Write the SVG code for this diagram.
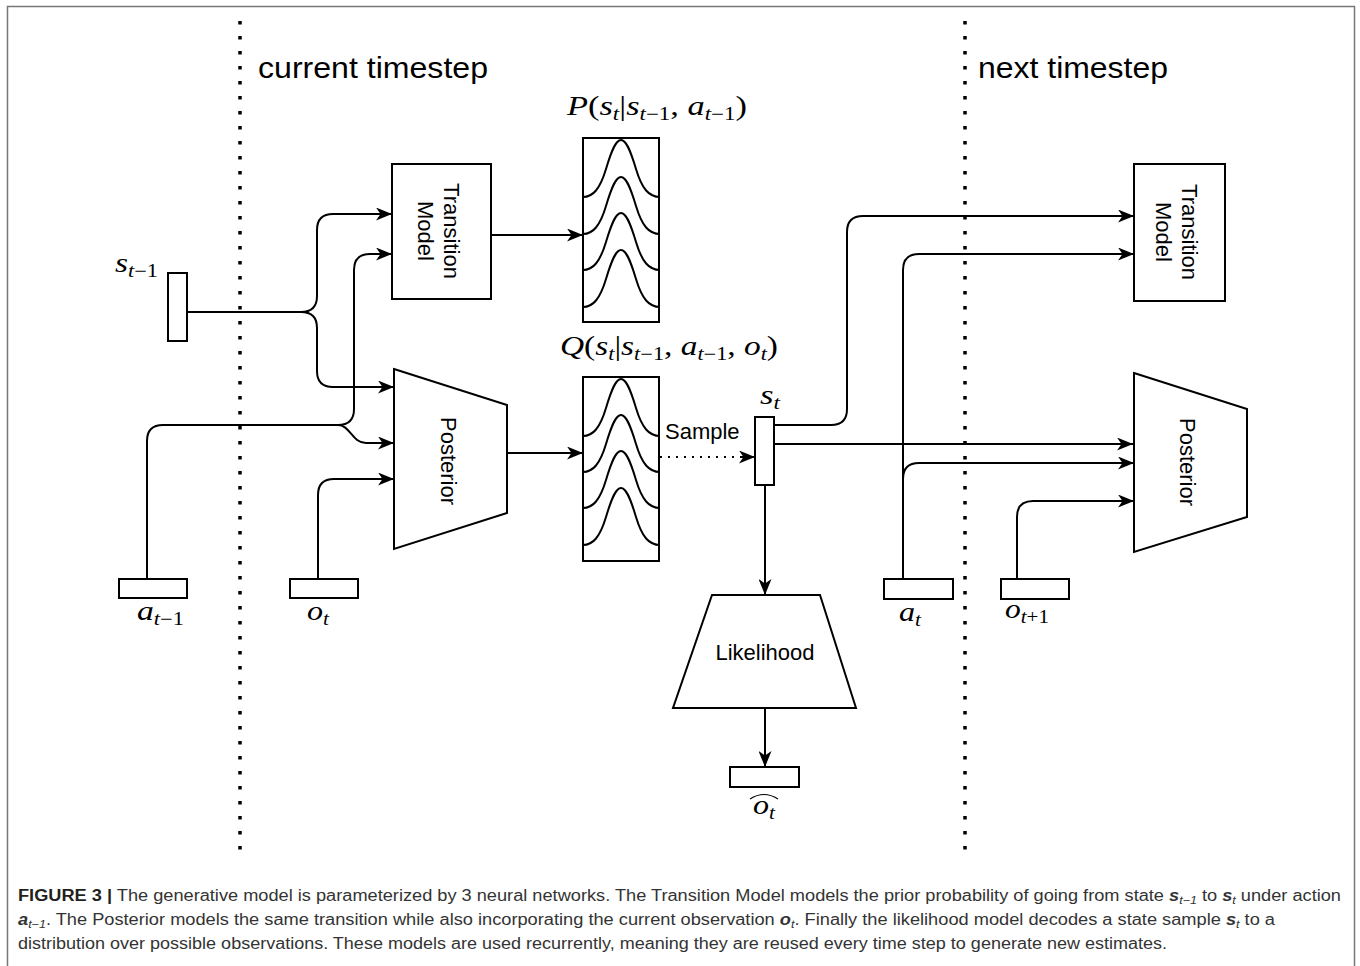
<svg xmlns="http://www.w3.org/2000/svg" width="1360" height="966" viewBox="0 0 1360 966">
<style>
.ln{fill:none;stroke:#000;stroke-width:2}
.arr{marker-end:url(#ah)}
.box{fill:#fff;stroke:#000;stroke-width:2}
.tl{fill:none;stroke:#000;stroke-width:3.5;stroke-dasharray:3.5 11.5}
.big{font-family:"Liberation Sans",Arial,sans-serif;font-size:30px;fill:#000}
.lab{font-family:"Liberation Sans",Arial,sans-serif;font-size:22px;fill:#000}
.m{font-family:"Liberation Serif","Times New Roman",serif;font-size:27px;fill:#000}
.i{font-style:italic}
.sub{font-size:18px}
.cap{font-family:"Liberation Sans",Arial,sans-serif;font-size:16px;fill:#333}
.cb{font-weight:bold;fill:#231f20}
.cv{font-weight:bold;font-style:italic}
.cs{font-size:11px;font-style:italic}
.g{fill:none;stroke:#000;stroke-width:2}
</style>
<defs>
<marker id="ah" markerUnits="userSpaceOnUse" markerWidth="17" markerHeight="13" refX="16" refY="6.5" orient="auto">
<path d="M0,0 L16,6.5 L0,13 L4.5,6.5 Z" fill="#000"/>
</marker>
<path id="gauss" d="M0,0 C10,0 17,-8 23,-28 C29,-48 33,-57 38,-57 C43,-57 47,-48 53,-28 C59,-8 66,0 77,0"/>
</defs>
<rect width="1360" height="966" fill="#fff"/>
<rect x="7.5" y="6.5" width="1347" height="1000" fill="none" stroke="#777" stroke-width="1.5"/>

<g id="timesteps">
<line class="tl" x1="240" y1="21" x2="240" y2="850"/>
<line class="tl" x1="965" y1="21" x2="965" y2="850"/>
<text class="big" x="258" y="78" textLength="230" lengthAdjust="spacingAndGlyphs">current timestep</text>
<text class="big" x="978" y="78" textLength="190" lengthAdjust="spacingAndGlyphs">next timestep</text>
</g>

<g id="connectors">
<path class="ln" d="M187,312 H301" stroke-width="3"/>
<path class="ln arr" d="M187,312 H301 Q317,312 317,296 V230 Q317,214 333,214 H392"/>
<path class="ln arr" d="M187,312 H301 Q317,312 317,328 V371 Q317,387 333,387 H394"/>
<path class="ln arr" d="M147,579 V441 Q147,425 163,425 H338 Q354,425 354,409 V270 Q354,254 370,254 H392"/>
<path class="ln arr" d="M338,425 C350,425 352,443 366,443 H394"/>
<path class="ln arr" d="M318,579 V495 Q318,479 334,479 H394"/>
<path class="ln arr" d="M491,235 H583"/>
<path class="ln arr" d="M507,453 H583"/>
<path class="ln" d="M660,457 H740" stroke-dasharray="2 6"/>
<path class="ln arr" d="M740,457 H755" stroke="none"/>
<path class="ln arr" d="M774,425 H831 Q847,425 847,409 V232 Q847,216 863,216 H1134"/>
<path class="ln arr" d="M774,444 H1133"/>
<path class="ln arr" d="M903,579 V270 Q903,254 919,254 H1134"/>
<path class="ln arr" d="M903,479 Q903,463 919,463 H1134"/>
<path class="ln arr" d="M1017,579 V517 Q1017,501 1033,501 H1134"/>
<path class="ln arr" d="M765,485 V595"/>
<path class="ln arr" d="M765,708 V767"/>
</g>

<g id="s_prev">
<rect class="box" x="168" y="273" width="19" height="68"/>
<text class="m" x="115" y="272" textLength="43" lengthAdjust="spacingAndGlyphs"><tspan class="i">s</tspan><tspan class="sub" dy="5"><tspan class="i">t</tspan>−1</tspan></text>
</g>

<g id="a_prev">
<rect class="box" x="119" y="579" width="68" height="19"/>
<text class="m" x="137" y="620" textLength="47" lengthAdjust="spacingAndGlyphs"><tspan class="i">a</tspan><tspan class="sub" dy="5"><tspan class="i">t</tspan>−1</tspan></text>
</g>

<g id="o_t">
<rect class="box" x="290" y="579" width="68" height="19"/>
<text class="m" x="307" y="620" textLength="22" lengthAdjust="spacingAndGlyphs"><tspan class="i">o</tspan><tspan class="sub i" dy="5">t</tspan></text>
</g>

<g id="transition_left">
<rect class="box" x="392" y="164" width="99" height="135"/>
<g transform="translate(441.5,231) rotate(90)">
<text class="lab" x="0" y="-2" text-anchor="middle">Transition</text>
<text class="lab" x="0" y="24" text-anchor="middle">Model</text>
</g>
</g>

<g id="posterior_left">
<path class="box" d="M394,369 L507,405 L507,513 L394,549 Z"/>
<text class="lab" transform="translate(450,461) rotate(90)" x="0" y="9" text-anchor="middle">Posterior</text>
</g>

<g id="prior_dist">
<text class="m" x="567" y="115" textLength="180" lengthAdjust="spacingAndGlyphs"><tspan class="i">P</tspan>(<tspan class="i">s</tspan><tspan class="sub i" dy="5">t</tspan><tspan dy="-5">|</tspan><tspan class="i">s</tspan><tspan class="sub" dy="5"><tspan class="i">t</tspan>−1</tspan><tspan dy="-5">, </tspan><tspan class="i">a</tspan><tspan class="sub" dy="5"><tspan class="i">t</tspan>−1</tspan><tspan dy="-5">)</tspan></text>
<rect class="box" x="583" y="138" width="76" height="184"/>
<use href="#gauss" class="g" x="583" y="197"/>
<use href="#gauss" class="g" x="583" y="234"/>
<use href="#gauss" class="g" x="583" y="270"/>
<use href="#gauss" class="g" x="583" y="307"/>
</g>

<g id="posterior_dist">
<text class="m" x="560" y="355" textLength="218" lengthAdjust="spacingAndGlyphs"><tspan class="i">Q</tspan>(<tspan class="i">s</tspan><tspan class="sub i" dy="5">t</tspan><tspan dy="-5">|</tspan><tspan class="i">s</tspan><tspan class="sub" dy="5"><tspan class="i">t</tspan>−1</tspan><tspan dy="-5">, </tspan><tspan class="i">a</tspan><tspan class="sub" dy="5"><tspan class="i">t</tspan>−1</tspan><tspan dy="-5">, </tspan><tspan class="i">o</tspan><tspan class="sub i" dy="5">t</tspan><tspan dy="-5">)</tspan></text>
<rect class="box" x="583" y="377" width="76" height="184"/>
<use href="#gauss" class="g" x="583" y="436"/>
<use href="#gauss" class="g" x="583" y="472"/>
<use href="#gauss" class="g" x="583" y="508"/>
<use href="#gauss" class="g" x="583" y="545"/>
</g>

<g id="sample_label">
<text class="lab" x="665" y="439">Sample</text>
</g>

<g id="s_t">
<rect class="box" x="755" y="417" width="19" height="68"/>
<text class="m" x="760" y="404" textLength="20" lengthAdjust="spacingAndGlyphs"><tspan class="i">s</tspan><tspan class="sub i" dy="5">t</tspan></text>
</g>

<g id="likelihood">
<path class="box" d="M712,595 L820,595 L856,708 L673,708 Z"/>
<text class="lab" x="765" y="660" text-anchor="middle">Likelihood</text>
</g>

<g id="o_hat">
<rect class="box" x="730" y="767" width="69" height="20"/>
<path d="M750,799 Q764,790 778,799" fill="none" stroke="#000" stroke-width="1.2"/>
<text class="m" x="753" y="814" textLength="22" lengthAdjust="spacingAndGlyphs"><tspan class="i">o</tspan><tspan class="sub i" dy="5">t</tspan></text>
</g>

<g id="a_t">
<rect class="box" x="884" y="579" width="69" height="20"/>
<text class="m" x="899" y="621" textLength="22" lengthAdjust="spacingAndGlyphs"><tspan class="i">a</tspan><tspan class="sub i" dy="5">t</tspan></text>
</g>

<g id="o_next">
<rect class="box" x="1001" y="579" width="68" height="20"/>
<text class="m" x="1005" y="618" textLength="44" lengthAdjust="spacingAndGlyphs"><tspan class="i">o</tspan><tspan class="sub" dy="5"><tspan class="i">t</tspan>+1</tspan></text>
</g>

<g id="transition_right">
<rect class="box" x="1134" y="164" width="91" height="137"/>
<g transform="translate(1179.5,232) rotate(90)">
<text class="lab" x="0" y="-2" text-anchor="middle">Transition</text>
<text class="lab" x="0" y="24" text-anchor="middle">Model</text>
</g>
</g>

<g id="posterior_right">
<path class="box" d="M1134,373 L1247,409 L1247,517 L1134,552 Z"/>
<text class="lab" transform="translate(1188,462) rotate(90)" x="0" y="8" text-anchor="middle">Posterior</text>
</g>

<g id="caption">
<text class="cap" x="18" y="901" textLength="1323" lengthAdjust="spacingAndGlyphs"><tspan class="cb">FIGURE 3 |</tspan> The generative model is parameterized by 3 neural networks. The Transition Model models the prior probability of going from state <tspan class="cv">s</tspan><tspan class="cs" dy="3">t−1</tspan><tspan dy="-3"> to </tspan><tspan class="cv">s</tspan><tspan class="cs" dy="3">t</tspan><tspan dy="-3"> under action</tspan></text>
<text class="cap" x="18" y="925" textLength="1257" lengthAdjust="spacingAndGlyphs"><tspan class="cv">a</tspan><tspan class="cs" dy="3">t−1</tspan><tspan dy="-3">. The Posterior models the same transition while also incorporating the current observation </tspan><tspan class="cv">o</tspan><tspan class="cs" dy="3">t</tspan><tspan dy="-3">. Finally the likelihood model decodes a state sample </tspan><tspan class="cv">s</tspan><tspan class="cs" dy="3">t</tspan><tspan dy="-3"> to a</tspan></text>
<text class="cap" x="18" y="949" textLength="1149" lengthAdjust="spacingAndGlyphs">distribution over possible observations. These models are used recurrently, meaning they are reused every time step to generate new estimates.</text>
</g>
</svg>
